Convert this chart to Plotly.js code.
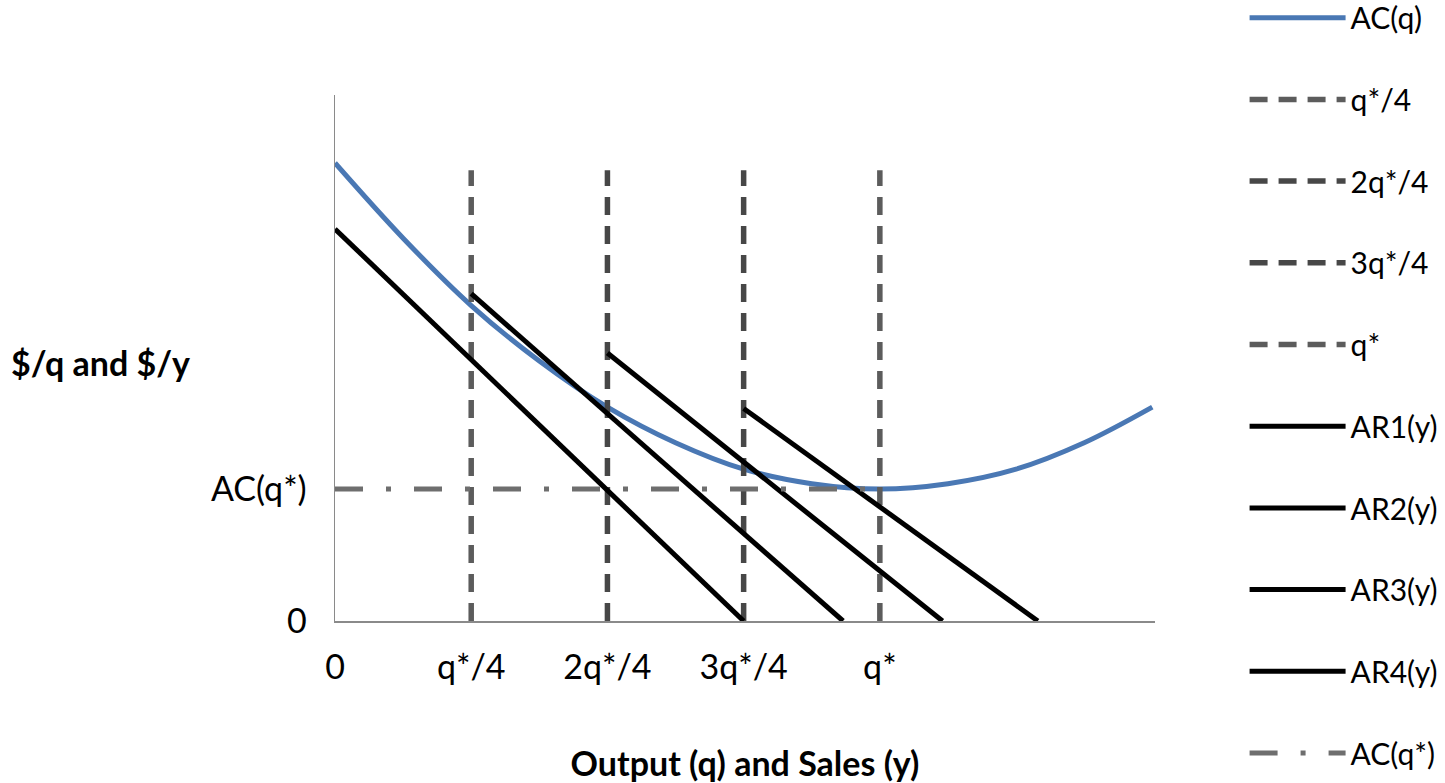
<!DOCTYPE html>
<html>
<head>
<meta charset="utf-8">
<script src="https://cdn.plot.ly/plotly-3.0.1.min.js"></script>
<style>html,body{margin:0;padding:0;background:#fff;}#chart{width:1445px;height:783px;}</style>
</head>
<body>
<div id="chart"></div>
<script>
// ---- data ----
const xTickVals = [0, 1, 2, 3, 4];
const xTickText = ['0', 'q*/4', '2q*/4', '3q*/4', 'q*'];
const yTickVals = [0, 1];
const yTickText = ['0', 'AC(q*)'];

const acX = [0, 0.5, 1, 1.5, 2, 2.5, 3, 3.5, 4, 4.5, 5, 5.5, 6];
const acY = [3.47, 2.90, 2.39, 1.97, 1.62, 1.35, 1.15, 1.04, 1.00, 1.04, 1.15, 1.35, 1.62];

const vNames = ['q*/4', '2q*/4', '3q*/4', 'q*'];
const vX = [1, 2, 3, 4];
const vBottom = [0, 0, 0, 0];
const vTop = [3.415, 3.415, 3.415, 3.415];
const vColors = ['#5c5c5c', '#474747', '#474747', '#5c5c5c'];

const arNames = ['AR1(y)', 'AR2(y)', 'AR3(y)', 'AR4(y)'];
const arStartX = [0, 1, 2, 3];
const arStartY = [2.97, 2.48, 2.03, 1.61];
const arEndX = [3.0, 3.73, 4.46, 5.16];
const arEndY = [0, 0, 0, 0];

const acStarX = [0, 4];
const acStarY = [1, 1];

// ---- traces ----
const FONT = 'Lato, "Open Sans", sans-serif';
const traces = [];
traces.push({x: acX, y: acY, type: 'scatter', mode: 'lines', name: 'AC(q)', legendgroup: 'g0',
  line: {color: '#4a78b4', width: 5, shape: 'spline', smoothing: 1}});
vNames.forEach((n, i) => traces.push({x: [vX[i], vX[i]], y: [vBottom[i], vTop[i]], type: 'scatter', mode: 'lines',
  name: n, legendgroup: 'v' + i, line: {color: vColors[i], width: 5.5, dash: '18px,11px'}}));
arNames.forEach((n, i) => traces.push({x: [arStartX[i], arEndX[i]], y: [arStartY[i], arEndY[i]], type: 'scatter', mode: 'lines',
  name: n, legendgroup: 'a' + i, line: {color: '#000000', width: 5}}));
traces.push({x: acStarX, y: acStarY, type: 'scatter', mode: 'lines', name: 'AC(q*)', legendgroup: 'z',
  line: {color: '#6e6e6e', width: 5, dash: '28px,23px,5px,23px'}});

const layout = {
  width: 1445, height: 783,
  paper_bgcolor: '#ffffff', plot_bgcolor: '#ffffff',
  font: {family: FONT, size: 34, color: '#000000'},
  margin: {l: 335, r: 290, t: 95, b: 162, autoexpand: false},
  showlegend: true,
  xaxis: {range: [0, 6.02], tickvals: xTickVals, ticktext: xTickText, ticks: '', showgrid: false, zeroline: false,
    showline: true, linecolor: '#8a8a8a', linewidth: 1.5, ticklabelstandoff: 16,
    tickfont: {family: FONT, size: 34},
    title: {text: '<b>Output (q) and Sales (y)</b>', font: {family: FONT, size: 34}, standoff: 69}},
  yaxis: {range: [0, 3.985], tickvals: yTickVals, ticktext: yTickText, ticks: '', showgrid: false, zeroline: false,
    showline: true, linecolor: '#8a8a8a', linewidth: 1.5, ticklabelstandoff: 20,
    tickfont: {family: FONT, size: 34}},
  xaxis2: {overlaying: 'x', anchor: 'y', range: [0, 6.02], tickvals: [0], ticks: 'outside', ticklen: 12, tickwidth: 1.5,
    tickcolor: '#8a8a8a', showticklabels: false, showgrid: false, zeroline: false, showline: false},
  yaxis2: {overlaying: 'y', anchor: 'x', side: 'left', range: [0, 3.985], tickvals: [0], ticks: 'outside', ticklen: 13, tickwidth: 1.5,
    tickcolor: '#8a8a8a', showticklabels: false, showgrid: false, zeroline: false, showline: false},
  legend: {xref: 'container', yref: 'paper', x: 0.8613, y: 1.1964, xanchor: 'left', yanchor: 'top', maxheight: 1000,
    itemwidth: 96, tracegroupgap: 39.7, traceorder: 'grouped', font: {family: FONT, size: 30}, bgcolor: 'rgba(0,0,0,0)'},
  annotations: [{xref: 'paper', yref: 'paper', x: -0.397, y: 0.492, xanchor: 'left', yanchor: 'middle', showarrow: false,
    text: '<b>$/q and $/y</b>', font: {family: FONT, size: 34, color: '#000'}}]
};

Plotly.newPlot('chart', traces, layout, {displayModeBar: false, staticPlot: true});
</script>
</body>
</html>
